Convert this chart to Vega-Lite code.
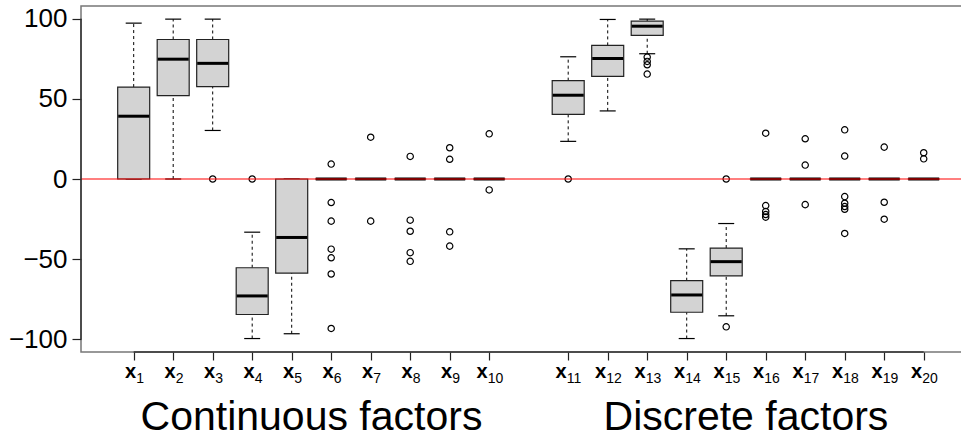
{
  "$schema": "https://vega.github.io/schema/vega-lite/v6.json",
  "width": 883,
  "height": 346,
  "autosize": {"type": "none"},
  "padding": {"left": 81, "top": 6, "right": 0, "bottom": 86},
  "background": "white",
  "config": {
    "view": {"stroke": "#777777", "strokeWidth": 1.5},
    "font": "Liberation Sans",
    "scale": {"continuousPadding": 0}
  },
  "datasets": {
    "boxes": [
      {"name": "x1", "pos": 1, "min": 0, "q1": 0, "med": 39.2, "q3": 57.4, "max": 97.3},
      {"name": "x2", "pos": 2, "min": 0, "q1": 52.1, "med": 74.8, "q3": 87.1, "max": 99.8},
      {"name": "x3", "pos": 3, "min": 30.3, "q1": 57.7, "med": 72.2, "q3": 87.1, "max": 99.8},
      {"name": "x4", "pos": 4, "min": -99.6, "q1": -84.6, "med": -73.0, "q3": -55.4, "max": -33.2},
      {"name": "x5", "pos": 5, "min": -96.6, "q1": -58.7, "med": -36.5, "q3": 0, "max": 0},
      {"name": "x6", "pos": 6, "min": 0, "q1": 0, "med": 0, "q3": 0, "max": 0},
      {"name": "x7", "pos": 7, "min": 0, "q1": 0, "med": 0, "q3": 0, "max": 0},
      {"name": "x8", "pos": 8, "min": 0, "q1": 0, "med": 0, "q3": 0, "max": 0},
      {"name": "x9", "pos": 9, "min": 0, "q1": 0, "med": 0, "q3": 0, "max": 0},
      {"name": "x10", "pos": 10, "min": 0, "q1": 0, "med": 0, "q3": 0, "max": 0},
      {"name": "x11", "pos": 12, "min": 23.5, "q1": 40.3, "med": 52.3, "q3": 61.4, "max": 76.3},
      {"name": "x12", "pos": 13, "min": 42.5, "q1": 64.1, "med": 75.3, "q3": 83.4, "max": 99.6},
      {"name": "x13", "pos": 14, "min": 78.2, "q1": 89.6, "med": 95.4, "q3": 98.5, "max": 99.8},
      {"name": "x14", "pos": 15, "min": -99.6, "q1": -83.2, "med": -72.4, "q3": -63.5, "max": -43.6},
      {"name": "x15", "pos": 16, "min": -85.4, "q1": -60.5, "med": -51.6, "q3": -43.1, "max": -27.8},
      {"name": "x16", "pos": 17, "min": 0, "q1": 0, "med": 0, "q3": 0, "max": 0},
      {"name": "x17", "pos": 18, "min": 0, "q1": 0, "med": 0, "q3": 0, "max": 0},
      {"name": "x18", "pos": 19, "min": 0, "q1": 0, "med": 0, "q3": 0, "max": 0},
      {"name": "x19", "pos": 20, "min": 0, "q1": 0, "med": 0, "q3": 0, "max": 0},
      {"name": "x20", "pos": 21, "min": 0, "q1": 0, "med": 0, "q3": 0, "max": 0}
    ],
    "outliers": [
      {"pos": 3, "value": 0},
      {"pos": 4, "value": 0},
      {"pos": 6, "value": 9.3}, {"pos": 6, "value": -14.7}, {"pos": 6, "value": -26.3}, {"pos": 6, "value": -43.8}, {"pos": 6, "value": -49.2}, {"pos": 6, "value": -59.3}, {"pos": 6, "value": -93.3},
      {"pos": 7, "value": 26.1}, {"pos": 7, "value": -26.3},
      {"pos": 8, "value": 14.1}, {"pos": 8, "value": -25.7}, {"pos": 8, "value": -32.6}, {"pos": 8, "value": -46.0}, {"pos": 8, "value": -51.4},
      {"pos": 9, "value": 19.5}, {"pos": 9, "value": 12.3}, {"pos": 9, "value": -33.0}, {"pos": 9, "value": -41.9},
      {"pos": 10, "value": 28.2}, {"pos": 10, "value": -6.8},
      {"pos": 12, "value": 0},
      {"pos": 14, "value": 76.1}, {"pos": 14, "value": 73.4}, {"pos": 14, "value": 71.3}, {"pos": 14, "value": 65.5},
      {"pos": 16, "value": 0}, {"pos": 16, "value": -92.3},
      {"pos": 17, "value": 28.6}, {"pos": 17, "value": -16.6}, {"pos": 17, "value": -20.3}, {"pos": 17, "value": -22.2}, {"pos": 17, "value": -23.8},
      {"pos": 18, "value": 25.1}, {"pos": 18, "value": 8.7}, {"pos": 18, "value": -16.0},
      {"pos": 19, "value": 30.7}, {"pos": 19, "value": 14.3}, {"pos": 19, "value": -11.0}, {"pos": 19, "value": -15.1}, {"pos": 19, "value": -17.2}, {"pos": 19, "value": -18.9}, {"pos": 19, "value": -34.0},
      {"pos": 20, "value": 19.9}, {"pos": 20, "value": -14.5}, {"pos": 20, "value": -25.1},
      {"pos": 21, "value": 16.4}, {"pos": 21, "value": 12.6}
    ],
    "labels": [
      {"pos": 1, "sub": "1", "digits": 1}, {"pos": 2, "sub": "2", "digits": 1}, {"pos": 3, "sub": "3", "digits": 1}, {"pos": 4, "sub": "4", "digits": 1}, {"pos": 5, "sub": "5", "digits": 1},
      {"pos": 6, "sub": "6", "digits": 1}, {"pos": 7, "sub": "7", "digits": 1}, {"pos": 8, "sub": "8", "digits": 1}, {"pos": 9, "sub": "9", "digits": 1}, {"pos": 10, "sub": "10", "digits": 2},
      {"pos": 12, "sub": "11", "digits": 2}, {"pos": 13, "sub": "12", "digits": 2}, {"pos": 14, "sub": "13", "digits": 2}, {"pos": 15, "sub": "14", "digits": 2}, {"pos": 16, "sub": "15", "digits": 2},
      {"pos": 17, "sub": "16", "digits": 2}, {"pos": 18, "sub": "17", "digits": 2}, {"pos": 19, "sub": "18", "digits": 2}, {"pos": 20, "sub": "19", "digits": 2}, {"pos": 21, "sub": "20", "digits": 2}
    ],
    "groups": [
      {"pos": 5.5, "text": "Continuous factors"},
      {"pos": 16.5, "text": "Discrete factors"}
    ],
    "one": [{"k": 1}]
  },
  "layer": [
    {
      "data": {"name": "boxes"},
      "mark": {"type": "rule", "color": "black", "strokeWidth": 1, "strokeDash": [3, 3], "opacity": 1},
      "encoding": {
        "x": {"field": "pos", "type": "quantitative", "title": null,
              "scale": {"domain": [-0.334, 22.02], "nice": false, "zero": false, "padding": 0},
              "axis": {"values": [1,2,3,4,5,6,7,8,9,10,12,13,14,15,16,17,18,19,20,21], "labels": false, "domain": false, "grid": false, "ticks": true, "tickSize": 8, "tickColor": "#222222", "tickWidth": 1.2, "title": null}},
        "y": {"field": "q3", "type": "quantitative", "title": null,
              "scale": {"domain": [-108, 108], "nice": false, "zero": false, "padding": 0},
              "axis": {"values": [-100, -50, 0, 50, 100], "domain": false, "grid": false, "tickSize": 9, "tickColor": "#222222", "tickWidth": 1.2, "labelFont": "Liberation Sans", "labelFontSize": 26, "labelColor": "black", "labelPadding": 5, "title": null}},
        "y2": {"field": "max"}
      }
    },
    {
      "data": {"name": "boxes"},
      "mark": {"type": "rule", "color": "black", "strokeWidth": 1, "strokeDash": [3, 3], "opacity": 1},
      "encoding": {
        "x": {"field": "pos", "type": "quantitative", "title": null, "scale": {"domain": [-0.334, 22.02], "nice": false, "zero": false, "padding": 0}},
        "y": {"field": "min", "type": "quantitative", "title": null, "scale": {"domain": [-108, 108], "nice": false, "zero": false, "padding": 0}},
        "y2": {"field": "q1"}
      }
    },
    {
      "data": {"name": "boxes"},
      "mark": {"type": "tick", "orient": "horizontal", "size": 16, "thickness": 1.2, "color": "black", "opacity": 1},
      "encoding": {
        "x": {"field": "pos", "type": "quantitative", "title": null, "scale": {"domain": [-0.334, 22.02], "nice": false, "zero": false, "padding": 0}},
        "y": {"field": "max", "type": "quantitative", "title": null, "scale": {"domain": [-108, 108], "nice": false, "zero": false, "padding": 0}}
      }
    },
    {
      "data": {"name": "boxes"},
      "mark": {"type": "tick", "orient": "horizontal", "size": 16, "thickness": 1.2, "color": "black", "opacity": 1},
      "encoding": {
        "x": {"field": "pos", "type": "quantitative", "title": null, "scale": {"domain": [-0.334, 22.02], "nice": false, "zero": false, "padding": 0}},
        "y": {"field": "min", "type": "quantitative", "title": null, "scale": {"domain": [-108, 108], "nice": false, "zero": false, "padding": 0}}
      }
    },
    {
      "data": {"name": "boxes"},
      "mark": {"type": "bar", "size": 32, "fill": "#D3D3D3", "stroke": "#222222", "strokeWidth": 1.2, "opacity": 1},
      "encoding": {
        "x": {"field": "pos", "type": "quantitative", "title": null, "scale": {"domain": [-0.334, 22.02], "nice": false, "zero": false, "padding": 0}},
        "y": {"field": "q1", "type": "quantitative", "title": null, "scale": {"domain": [-108, 108], "nice": false, "zero": false, "padding": 0}},
        "y2": {"field": "q3"}
      }
    },
    {
      "data": {"name": "boxes"},
      "mark": {"type": "tick", "orient": "horizontal", "size": 31, "thickness": 3, "color": "black", "opacity": 1},
      "encoding": {
        "x": {"field": "pos", "type": "quantitative", "title": null, "scale": {"domain": [-0.334, 22.02], "nice": false, "zero": false, "padding": 0}},
        "y": {"field": "med", "type": "quantitative", "title": null, "scale": {"domain": [-108, 108], "nice": false, "zero": false, "padding": 0}}
      }
    },
    {
      "data": {"name": "outliers"},
      "mark": {"type": "point", "shape": "circle", "filled": false, "size": 40, "stroke": "black", "strokeWidth": 1.2, "opacity": 1},
      "encoding": {
        "x": {"field": "pos", "type": "quantitative", "title": null, "scale": {"domain": [-0.334, 22.02], "nice": false, "zero": false, "padding": 0}},
        "y": {"field": "value", "type": "quantitative", "title": null, "scale": {"domain": [-108, 108], "nice": false, "zero": false, "padding": 0}}
      }
    },
    {
      "data": {"name": "one"},
      "mark": {"type": "rule", "color": "#FF0000", "opacity": 0.5, "strokeWidth": 2},
      "encoding": {
        "y": {"datum": 0, "type": "quantitative", "title": null, "scale": {"domain": [-108, 108], "nice": false, "zero": false, "padding": 0}}
      }
    },
    {
      "data": {"name": "one"},
      "mark": {"type": "rule", "color": "#333333", "strokeWidth": 1.5, "opacity": 1},
      "encoding": {
        "x": {"datum": 1, "type": "quantitative", "title": null, "scale": {"domain": [-0.334, 22.02], "nice": false, "zero": false, "padding": 0}},
        "x2": {"datum": 21},
        "y": {"datum": -108, "type": "quantitative", "title": null, "scale": {"domain": [-108, 108], "nice": false, "zero": false, "padding": 0}}
      }
    },
    {
      "data": {"name": "one"},
      "mark": {"type": "rule", "color": "#333333", "strokeWidth": 1.5, "opacity": 1},
      "encoding": {
        "x": {"datum": -0.334, "type": "quantitative", "title": null, "scale": {"domain": [-0.334, 22.02], "nice": false, "zero": false, "padding": 0}},
        "y": {"datum": -100, "type": "quantitative", "title": null, "scale": {"domain": [-108, 108], "nice": false, "zero": false, "padding": 0}},
        "y2": {"datum": 100}
      }
    },
    {
      "data": {"name": "labels"},
      "transform": [{"filter": "datum.digits == 1"}],
      "mark": {"type": "text", "text": "x", "font": "Liberation Sans", "fontWeight": "bold", "fontSize": 20, "align": "right", "baseline": "alphabetic", "dx": 2.5, "dy": 26, "color": "black"},
      "encoding": {
        "x": {"field": "pos", "type": "quantitative", "title": null, "scale": {"domain": [-0.334, 22.02], "nice": false, "zero": false, "padding": 0}},
        "y": {"datum": -108, "type": "quantitative", "title": null, "scale": {"domain": [-108, 108], "nice": false, "zero": false, "padding": 0}}
      }
    },
    {
      "data": {"name": "labels"},
      "transform": [{"filter": "datum.digits == 1"}],
      "mark": {"type": "text", "font": "Liberation Sans", "fontSize": 14, "align": "left", "baseline": "alphabetic", "dx": 2.5, "dy": 30.5, "color": "black"},
      "encoding": {
        "text": {"field": "sub"},
        "x": {"field": "pos", "type": "quantitative", "title": null, "scale": {"domain": [-0.334, 22.02], "nice": false, "zero": false, "padding": 0}},
        "y": {"datum": -108, "type": "quantitative", "title": null, "scale": {"domain": [-108, 108], "nice": false, "zero": false, "padding": 0}}
      }
    },
    {
      "data": {"name": "labels"},
      "transform": [{"filter": "datum.digits == 2"}],
      "mark": {"type": "text", "text": "x", "font": "Liberation Sans", "fontWeight": "bold", "fontSize": 20, "align": "right", "baseline": "alphabetic", "dx": -1.5, "dy": 26, "color": "black"},
      "encoding": {
        "x": {"field": "pos", "type": "quantitative", "title": null, "scale": {"domain": [-0.334, 22.02], "nice": false, "zero": false, "padding": 0}},
        "y": {"datum": -108, "type": "quantitative", "title": null, "scale": {"domain": [-108, 108], "nice": false, "zero": false, "padding": 0}}
      }
    },
    {
      "data": {"name": "labels"},
      "transform": [{"filter": "datum.digits == 2"}],
      "mark": {"type": "text", "font": "Liberation Sans", "fontSize": 14, "align": "left", "baseline": "alphabetic", "dx": -1.5, "dy": 30.5, "color": "black"},
      "encoding": {
        "text": {"field": "sub"},
        "x": {"field": "pos", "type": "quantitative", "title": null, "scale": {"domain": [-0.334, 22.02], "nice": false, "zero": false, "padding": 0}},
        "y": {"datum": -108, "type": "quantitative", "title": null, "scale": {"domain": [-108, 108], "nice": false, "zero": false, "padding": 0}}
      }
    },
    {
      "data": {"name": "groups"},
      "mark": {"type": "text", "font": "Liberation Sans", "fontSize": 41, "align": "center", "baseline": "alphabetic", "dy": 78, "color": "black"},
      "encoding": {
        "text": {"field": "text"},
        "x": {"field": "pos", "type": "quantitative", "title": null, "scale": {"domain": [-0.334, 22.02], "nice": false, "zero": false, "padding": 0}},
        "y": {"datum": -108, "type": "quantitative", "title": null, "scale": {"domain": [-108, 108], "nice": false, "zero": false, "padding": 0}}
      }
    }
  ]
}
